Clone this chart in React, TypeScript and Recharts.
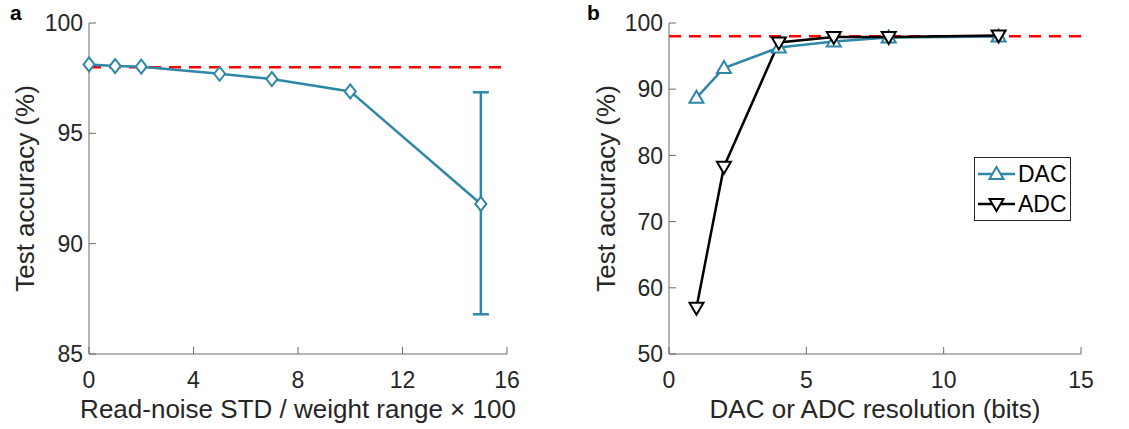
import {
  LineChart,
  Line,
  XAxis,
  YAxis,
  ReferenceLine,
  ErrorBar,
  Legend,
} from 'recharts';

// panel a: read noise sweep
const noiseLevels = [0, 1, 2, 5, 7, 10, 15];
const noiseAccuracy = [98.12, 98.05, 98.02, 97.7, 97.46, 96.9, 91.8];
const noiseErrLow = [null, null, null, null, null, null, 5.0];
const noiseErrHigh = [null, null, null, null, null, null, 5.06];

// panel b: converter resolution sweep
const bits = [1, 2, 4, 6, 8, 12];
const dacAccuracy = [88.7, 93.2, 96.3, 97.2, 97.8, 97.95];
const adcAccuracy = [57.0, 78.3, 97.05, 97.9, 97.9, 98.1];

const baseline = 98;
const ticksA_x = [0, 4, 8, 12, 16];
const ticksA_y = [85, 90, 95, 100];
const ticksB_x = [0, 5, 10, 15];
const ticksB_y = [50, 60, 70, 80, 90, 100];

const BLUE = '#2f87a8';
const AXIS = '#6b6b6b';
const TEXT = '#262626';
const FONT = '"Liberation Sans", Arial, sans-serif';

const noiseData = noiseLevels.map((x, i) => ({
  x,
  acc: noiseAccuracy[i],
  err: noiseErrLow[i] == null ? null : [noiseErrLow[i], noiseErrHigh[i]],
}));

const bitsData = bits.map((x, i) => ({
  x,
  dac: dacAccuracy[i],
  adc: adcAccuracy[i],
}));

const tickStyle = { fill: TEXT, fontSize: 23, fontFamily: FONT };
const labelStyle = { fill: TEXT, fontSize: 26, fontFamily: FONT };

const Diamond = (props: any) => {
  const { cx, cy, key } = props;
  if (cx == null || cy == null) return null;
  return (
    <polygon
      key={key}
      points={`${cx},${cy - 7} ${cx + 5.5},${cy} ${cx},${cy + 7} ${cx - 5.5},${cy}`}
      fill="#fff"
      stroke={BLUE}
      strokeWidth={2}
    />
  );
};

const triangle = (cx: number, cy: number, up: boolean) =>
  up
    ? `${cx},${cy - 7} ${cx + 7},${cy + 5} ${cx - 7},${cy + 5}`
    : `${cx},${cy + 7} ${cx + 7},${cy - 5} ${cx - 7},${cy - 5}`;

const TriUp = (props: any) => {
  const { cx, cy, key } = props;
  if (cx == null || cy == null) return null;
  return <polygon key={key} points={triangle(cx, cy, true)} fill="#fff" stroke={BLUE} strokeWidth={2} />;
};

const TriDown = (props: any) => {
  const { cx, cy, key } = props;
  if (cx == null || cy == null) return null;
  return <polygon key={key} points={triangle(cx, cy, false)} fill="#fff" stroke="#000" strokeWidth={2} />;
};

const LegendBox = () => (
  <svg width={97} height={64} style={{ display: 'block' }}>
    <rect x={0.5} y={0.5} width={96} height={63} fill="#fff" stroke="#262626" strokeWidth={1} />
    <line x1={4} x2={41} y1={17} y2={17} stroke={BLUE} strokeWidth={2.5} />
    <polygon points={triangle(22.5, 17, true)} fill="#fff" stroke={BLUE} strokeWidth={2} />
    <text x={44} y={17} dy="0.36em" fontSize={23} fontFamily={FONT} fill="#000">DAC</text>
    <line x1={4} x2={41} y1={47} y2={47} stroke="#000" strokeWidth={2.5} />
    <polygon points={triangle(22.5, 47, false)} fill="#fff" stroke="#000" strokeWidth={2} />
    <text x={44} y={47} dy="0.36em" fontSize={23} fontFamily={FONT} fill="#000">ADC</text>
  </svg>
);

const PanelLetter = ({ text, left }: { text: string; left: number }) => (
  <div
    style={{
      position: 'absolute',
      left,
      top: 1,
      fontFamily: FONT,
      fontWeight: 'bold',
      fontSize: 21,
      color: '#000',
      lineHeight: '24px',
    }}
  >
    {text}
  </div>
);

const PanelA = () => (
  <LineChart
    width={560}
    height={429}
    data={noiseData}
    margin={{ top: 23, right: 53, bottom: 0, left: 0 }}
  >
    <XAxis
      dataKey="x"
      type="number"
      domain={[0, 16]}
      ticks={ticksA_x}
      height={75}
      stroke={AXIS}
      tickSize={-7}
      tickMargin={25}
      tick={tickStyle}
      label={{ value: 'Read-noise STD / weight range × 100', position: 'insideBottom', offset: 11, style: labelStyle }}
    />
    <XAxis xAxisId="top" orientation="top" type="number" domain={[0, 16]} ticks={ticksA_x} height={0} stroke={AXIS} tickSize={-7} tickFormatter={() => ''} allowDataOverflow />
    <YAxis
      type="number"
      domain={[85, 100]}
      ticks={ticksA_y}
      width={89}
      stroke={AXIS}
      tickSize={-7}
      tickMargin={13}
      tick={tickStyle}
      label={{ value: 'Test accuracy (%)', angle: -90, position: 'insideLeft', offset: 25, style: { ...labelStyle, textAnchor: 'middle' } }}
    />
    <YAxis yAxisId="right" orientation="right" type="number" domain={[85, 100]} ticks={ticksA_y} width={0} stroke={AXIS} tickSize={-7} tickFormatter={() => ''} allowDataOverflow />
    <ReferenceLine y={baseline} stroke="#ff0000" strokeWidth={2.5} strokeDasharray="12 8" />
    <Line
      dataKey="acc"
      stroke={BLUE}
      strokeWidth={2.5}
      dot={Diamond}
      activeDot={false}
      isAnimationActive={false}
    >
      <ErrorBar dataKey="err" direction="y" width={8} stroke={BLUE} strokeWidth={2.5} isAnimationActive={false} />
    </Line>
  </LineChart>
);

const PanelB = () => (
  <LineChart
    width={569}
    height={429}
    data={bitsData}
    margin={{ top: 23, right: 48, bottom: 0, left: 0 }}
  >
    <XAxis
      dataKey="x"
      type="number"
      domain={[0, 15]}
      ticks={ticksB_x}
      height={75}
      stroke={AXIS}
      tickSize={-7}
      tickMargin={25}
      tick={tickStyle}
      label={{ value: 'DAC or ADC resolution (bits)', position: 'insideBottom', offset: 11, style: labelStyle }}
    />
    <XAxis xAxisId="top" orientation="top" type="number" domain={[0, 15]} ticks={ticksB_x} height={0} stroke={AXIS} tickSize={-7} tickFormatter={() => ''} allowDataOverflow />
    <YAxis
      type="number"
      domain={[50, 100]}
      ticks={ticksB_y}
      width={109}
      stroke={AXIS}
      tickSize={-7}
      tickMargin={13}
      tick={tickStyle}
      label={{ value: 'Test accuracy (%)', angle: -90, position: 'insideLeft', offset: 46, style: { ...labelStyle, textAnchor: 'middle' } }}
    />
    <YAxis yAxisId="right" orientation="right" type="number" domain={[50, 100]} ticks={ticksB_y} width={0} stroke={AXIS} tickSize={-7} tickFormatter={() => ''} allowDataOverflow />
    <ReferenceLine y={baseline} stroke="#ff0000" strokeWidth={2.5} strokeDasharray="12 8" />
    <Line dataKey="dac" name="DAC" stroke={BLUE} strokeWidth={2.5} dot={TriUp} activeDot={false} isAnimationActive={false} />
    <Line dataKey="adc" name="ADC" stroke="#000" strokeWidth={2.5} dot={TriDown} activeDot={false} isAnimationActive={false} />
    <Legend
      layout="horizontal"
      verticalAlign="middle"
      align="center"
      content={LegendBox}
      wrapperStyle={{ position: 'absolute', left: 414, top: 157, width: 97, height: 64 }}
    />
  </LineChart>
);

export default function App() {
  return (
    <div style={{ position: 'absolute', left: 0, top: 0, width: 1129, height: 429, background: '#fff', overflow: 'hidden' }}>
      <div style={{ position: 'absolute', left: 0, top: 0 }}>
        <PanelA />
      </div>
      <div style={{ position: 'absolute', left: 560, top: 0 }}>
        <PanelB />
      </div>
      <PanelLetter text="a" left={10} />
      <PanelLetter text="b" left={587} />
    </div>
  );
}
